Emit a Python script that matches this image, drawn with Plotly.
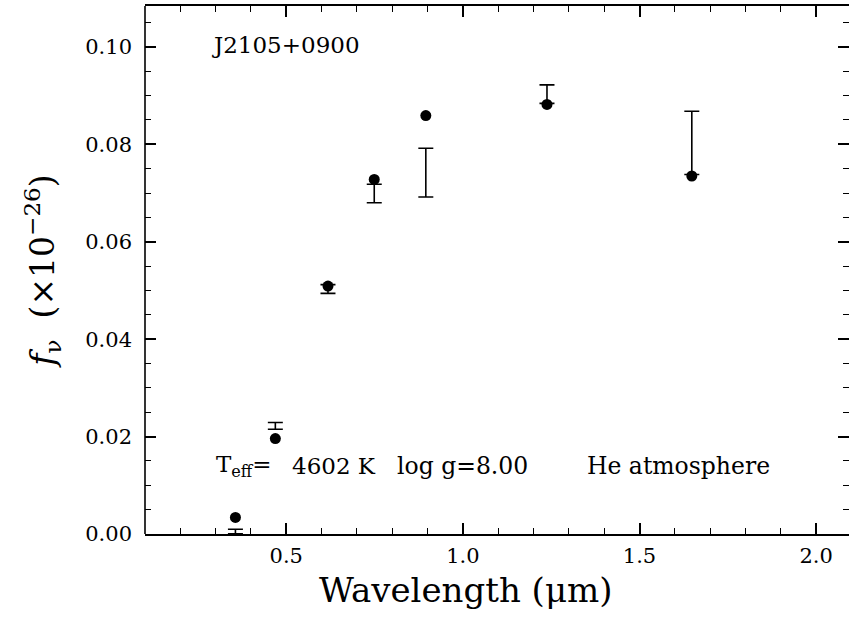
import plotly.graph_objects as go

# Wavelengths of photometric bands (micron)
wavelength = [0.356, 0.469, 0.618, 0.749, 0.895, 1.238, 1.648]
# Model fluxes (filled circles), in 1e-26 units
model_flux = [0.0034, 0.0196, 0.0509, 0.0728, 0.0859, 0.0882, 0.0735]
# Observed fluxes (error bars) and their 1-sigma errors
obs_flux = [0.0005, 0.0222, 0.0503, 0.0699, 0.0742, 0.0903, 0.0803]
obs_err = [0.00048, 0.0007, 0.0009, 0.0019, 0.0050, 0.0019, 0.0065]

x_ticks = [0.5, 1.0, 1.5, 2.0]
x_ticklabels = ["0.5", "1.0", "1.5", "2.0"]
y_ticks = [0.00, 0.02, 0.04, 0.06, 0.08, 0.10]
y_ticklabels = ["0.00", "0.02", "0.04", "0.06", "0.08", "0.10"]

FONT = "DejaVu Serif"

fig = go.Figure()

fig.add_trace(go.Scatter(
    x=wavelength, y=obs_flux, mode="markers",
    marker=dict(size=1, color="rgba(0,0,0,0)"),
    error_y=dict(type="data", array=obs_err, visible=True,
                 color="black", thickness=1.6, width=7.5),
    showlegend=False, hoverinfo="skip",
))

fig.add_trace(go.Scatter(
    x=wavelength, y=model_flux, mode="markers",
    marker=dict(size=11, color="black", line=dict(width=0)),
    showlegend=False,
))

fig.update_layout(
    width=849, height=619,
    margin=dict(l=145, r=0, t=6, b=85),
    plot_bgcolor="white", paper_bgcolor="white",
    font=dict(family=FONT, color="black", size=21),
    xaxis=dict(
        range=[0.1, 2.093],
        tickmode="array", tickvals=x_ticks, ticktext=x_ticklabels,
        ticks="inside", ticklen=11, tickwidth=1.5, tickcolor="black",
        minor=dict(dtick=0.1, tick0=0, ticks="inside", ticklen=6,
                   tickwidth=1.3, tickcolor="black"),
        showline=True, linecolor="black", linewidth=1.6, mirror="allticks",
        showgrid=False, zeroline=False,
        tickfont=dict(family=FONT, size=21),
        ticklabelstandoff=2,
    ),
    yaxis=dict(
        range=[0, 0.1084],
        tickmode="array", tickvals=y_ticks, ticktext=y_ticklabels,
        ticks="inside", ticklen=11, tickwidth=1.5, tickcolor="black",
        minor=dict(dtick=0.005, tick0=0, ticks="inside", ticklen=6,
                   tickwidth=1.3, tickcolor="black"),
        showline=False, mirror="allticks",
        showgrid=False, zeroline=False,
        tickfont=dict(family=FONT, size=21),
        ticklabelstandoff=12,
        title=dict(text="<i>f</i><sub>ν</sub>  (×10<sup>−26</sup>)",
                   font=dict(family=FONT, size=33), standoff=20),
    ),
)

# left frame edge (right edge lies just outside the picture in the reference)
fig.add_shape(type="line", xref="paper", yref="paper", x0=0, x1=0, y0=0, y1=1,
              line=dict(color="black", width=1.6))

# x-axis title
fig.add_annotation(x=1.0075, y=-0.106, xref="x", yref="paper",
                   text="Wavelength (μm)", showarrow=False,
                   xanchor="center", yanchor="middle",
                   font=dict(family=FONT, size=34, color="black"))

annots = [
    dict(text="J2105+0900", x=0.283, y=0.1004, size=23),
    dict(text="T<sub>eff</sub>=", x=0.294, y=0.0140, size=23),
    dict(text="4602 K", x=0.5095, y=0.0140, size=23),
    dict(text="log g=8.00", x=0.807, y=0.0140, size=23.5),
    dict(text="He atmosphere", x=1.347, y=0.0140, size=23.5),
]
for a in annots:
    fig.add_annotation(x=a["x"], y=a["y"], xref="x", yref="y", text=a["text"],
                       showarrow=False, xanchor="left", yanchor="middle",
                       font=dict(family=FONT, size=a["size"], color="black"))

fig.write_html("out.html")
